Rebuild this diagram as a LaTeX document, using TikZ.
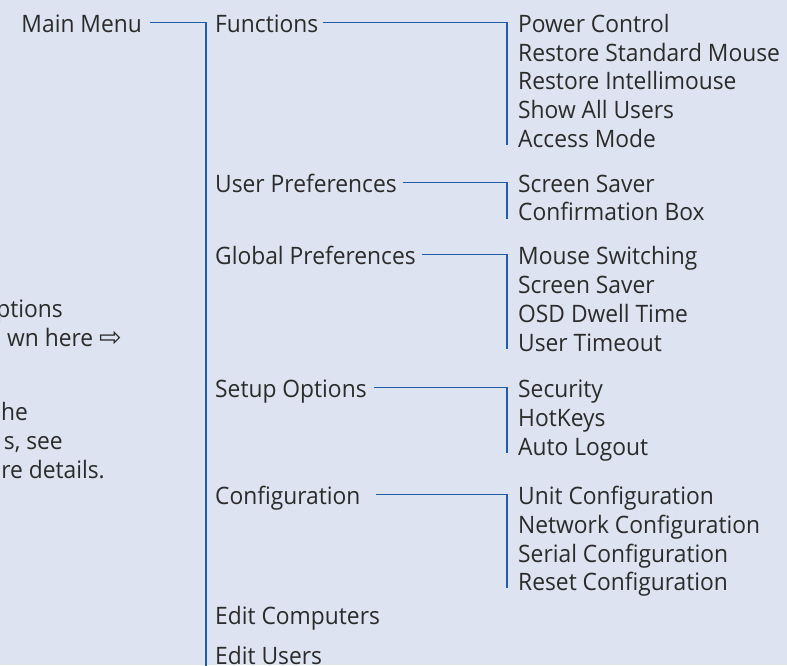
\documentclass[tikz,border=0pt]{standalone}
\usepackage{fontspec}
\setmainfont[FakeStretch=0.95]{Open Sans}
\newfontfamily\symfont{DejaVu Sans}
\definecolor{bg}{HTML}{DDE3F0}
\definecolor{txt}{HTML}{2B2B2B}
\definecolor{ln}{HTML}{1F5DA6}
\begin{document}
\begin{tikzpicture}[x=1pt,y=-1pt,
  lbl/.style={anchor=base west,inner sep=0pt,text=txt,font=\fontsize{24}{28}\selectfont},
  note/.style={lbl,anchor=base east},
  conn/.style={draw=ln,line width=1.4pt}]
\fill[bg] (0,0) rectangle (787,665);
\clip (0,0) rectangle (787,665);
% root
\node[note] (mm) at (142,32.3) {Main Menu};
% level 1
\node[lbl] (fn) at (215,32.3) {Functions};
\node[lbl] (up) at (215,192) {User Preferences};
\node[lbl] (gp) at (215,264) {Global Preferences};
\node[lbl] (so) at (215,397) {Setup Options};
\node[lbl] (cf) at (215,504) {Configuration};
\node[lbl] (ec) at (215,624) {Edit Computers};
\node[lbl] (eu) at (215,664) {Edit Users};
% level 2
\node[lbl] (pc)  at (518,32.3)  {Power Control};
\node[lbl] (rsm) at (518,61)    {Restore Standard Mouse};
\node[lbl] (ri)  at (518,89.7)  {Restore Intellimouse};
\node[lbl] (sau) at (518,118.4) {Show All Users};
\node[lbl] (am)  at (518,147.1) {Access Mode};
\node[lbl] (ssa) at (518,192)   {Screen Saver};
\node[lbl] (cb)  at (518,220.7) {Confirmation Box};
\node[lbl] (ms)  at (518,264)   {Mouse Switching};
\node[lbl] (ssb) at (518,293)   {Screen Saver};
\node[lbl] (odt) at (518,322)   {OSD Dwell Time};
\node[lbl] (ut)  at (518,351)   {User Timeout};
\node[lbl] (sec) at (518,397)   {Security};
\node[lbl] (hk)  at (518,426)   {HotKeys};
\node[lbl] (al)  at (518,455)   {Auto Logout};
\node[lbl] (uc)  at (518,504)   {Unit Configuration};
\node[lbl] (nc)  at (518,533)   {Network Configuration};
\node[lbl] (sc)  at (518,562)   {Serial Configuration};
\node[lbl] (rc)  at (518,590)   {Reset Configuration};
% side note (cut off at the left edge)
\node[note] (t1) at (63,317) {options};
\node[note] (t2) at (122,346) {wn here {\symfont\fontsize{27}{28}\selectfont ⇨}};
\node[note] (t3) at (28,420) {he};
\node[note] (t4) at (63,449) {s, see};
\node[note] (t5) at (105,478) {re details.};
% connectors
\coordinate (mbot) at (206,670);
\draw[conn] ([shift={(8pt,9.6pt)}]mm.base east) -| (mbot);
\draw[conn] ([shift={(5pt,9.6pt)}]fn.base east) -- ([shift={(-11pt,9.6pt)}]pc.base west) -- ([shift={(-11pt,2pt)}]am.base west);
\draw[conn] ([shift={(6pt,9.6pt)}]up.base east) -- ([shift={(-11pt,9.6pt)}]ssa.base west) -- ([shift={(-11pt,2pt)}]cb.base west);
\draw[conn] ([shift={(6pt,9.6pt)}]gp.base east) -- ([shift={(-11pt,9.6pt)}]ms.base west) -- ([shift={(-11pt,2pt)}]ut.base west);
\draw[conn] ([shift={(7pt,9.6pt)}]so.base east) -- ([shift={(-11pt,9.6pt)}]sec.base west) -- ([shift={(-11pt,2pt)}]al.base west);
\draw[conn] ([shift={(15pt,9.6pt)}]cf.base east) -- ([shift={(-11pt,9.6pt)}]uc.base west) -- ([shift={(-11pt,2pt)}]rc.base west);
\end{tikzpicture}
\end{document}
